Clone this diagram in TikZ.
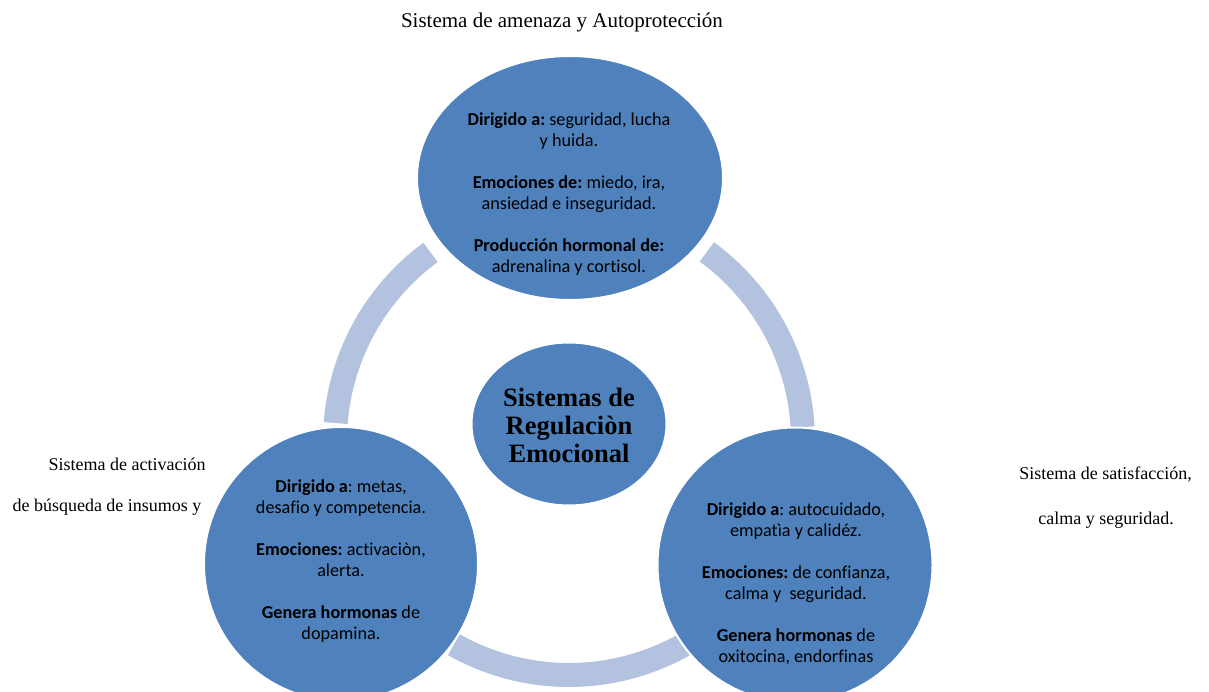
\documentclass[tikz,border=0pt]{standalone}
\usepackage{fontspec}
\setmainfont{Liberation Serif}
\newfontfamily\calfont[Ligatures=NoCommon]{Carlito}
\usetikzlibrary{shapes.geometric}
\frenchspacing
\definecolor{blueA}{RGB}{79,129,189}
\definecolor{ringc}{RGB}{179,194,222}
\tikzset{
  ringarc/.style={draw=ringc, line width=24pt},
  bubble/.style={ellipse, fill=blueA, draw=white, line width=2pt, inner sep=0pt},
  bubtext/.style={align=center, text=black, font=\calfont\fontsize{18.2}{21}\selectfont},
  centertext/.style={align=center, text=black, font=\bfseries\fontsize{26.5}{28}\selectfont},
  lbl/.style={text=black, inner sep=0pt}
}
\begin{document}
\begin{tikzpicture}[x=1pt,y=1pt]
\useasboundingbox (0,0) rectangle (1209,691);
\clip (0,0) rectangle (1209,691);
\coordinate (rc) at (569,250);
% ring arcs
\draw[ringarc] ([shift={(175.6:234)}]rc) arc[start angle=175.6, end angle=126.3, radius=234];
\draw[ringarc] ([shift={(53.9:234)}]rc) arc[start angle=53.9, end angle=3.4, radius=234];
\draw[ringarc] ([shift={(-60.6:234)}]rc) arc[start angle=-60.6, end angle=-119.5, radius=234];
% bubbles
\node[bubble, minimum width=306, minimum height=244] (top) at (570,513) {};
\node[bubble, minimum width=274, minimum height=274] (bl) at (341,127) {};
\node[bubble, minimum width=275, minimum height=275] (br) at (795,126) {};
\node[bubble, minimum width=195, minimum height=163] (mid) at (569,267) {};
% bubble texts
\node[bubtext] (toptext) at (569,497) {{\bfseries Dirigido a:} seguridad, lucha\\ y huida.\\[21pt]
{\bfseries Emociones de:} miedo, ira,\\ ansiedad e inseguridad.\\[21pt]
{\bfseries Producción hormonal de:}\\ adrenalina y cortisol.};
\node[bubtext] (bltext) at (341,129.5) {{\bfseries Dirigido a}: metas,\\ desafio y competencia.\\[21pt]
{\bfseries Emociones:} activaciòn,\\ alerta.\\[21pt]
{\bfseries Genera hormonas} de\\ dopamina.};
\node[bubtext] (brtext) at (796,107.5) {{\bfseries Dirigido a}: autocuidado,\\ empatìa y calidéz.\\[21pt]
{\bfseries Emociones:} de confianza,\\ calma y~ seguridad.\\[21pt]
{\bfseries Genera hormonas} de\\ oxitocina, endorfinas};
\node[centertext] (midtext) at (569,266) {Sistemas de\\ Regulaciòn\\ Emocional};
% outer labels
\node[lbl, font=\fontsize{21}{24}\selectfont] (ltop) at (562,669) {Sistema de amenaza y Autoprotección};
\node[lbl, font=\fontsize{18}{21}\selectfont] (lleft1) at (127,227) {Sistema de activación};
\node[lbl, font=\fontsize{18}{21}\selectfont] (lleft2) at (107,184) {de búsqueda de insumos y};
\node[lbl, font=\fontsize{18}{21}\selectfont] (lright1) at (1105.5,216) {Sistema de satisfacción,};
\node[lbl, font=\fontsize{18}{21}\selectfont] (lright2) at (1106,171) {calma y seguridad.};
\end{tikzpicture}
\end{document}
